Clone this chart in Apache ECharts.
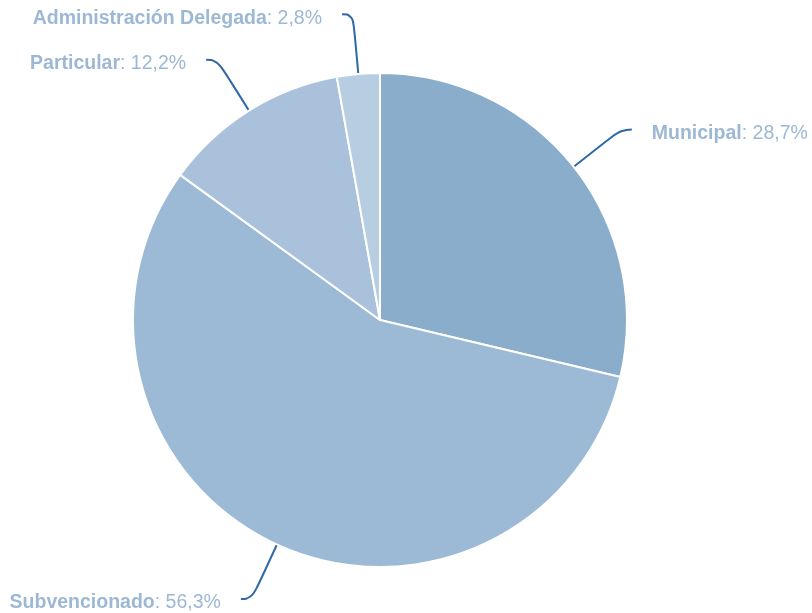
<!DOCTYPE html>
<html>
<head>
<meta charset="utf-8">
<script src="https://cdn.jsdelivr.net/npm/echarts@6/dist/echarts.min.js"></script>
<style>
  html, body { margin: 0; padding: 0; background: #fff; }
  #chart { width: 812px; height: 613px; }
</style>
</head>
<body>
<div id="chart"></div>
<script>
// datos (porcentaje de establecimientos por dependencia)
const categorias = ["Municipal", "Subvencionado", "Particular", "Administración Delegada"];
const valores = [28.7, 56.3, 12.2, 2.8];
const colores = ["#8aadcc", "#9cbad5", "#a9c1da", "#b6cde2"];

const chart = echarts.init(document.getElementById("chart"));

chart.setOption({
  animation: false,
  color: colores,
  series: [
    {
      type: "pie",
      center: [380, 320],
      radius: 247,
      startAngle: 90,
      clockwise: true,
      avoidLabelOverlap: false,
      data: categorias.map((c, i) => ({ name: c, value: valores[i] })),
      itemStyle: {
        borderColor: "#ffffff",
        borderWidth: 2,
      },
      label: {
        show: true,
        position: "outside",
        distanceToLabelLine: 20,
        fontFamily: "Liberation Sans, Arial, sans-serif",
        fontSize: 19.5,
        color: "#9db8d4",
        formatter: function (p) {
          return "{b|" + p.name + "}: " + p.value.toFixed(1).replace(".", ",") + "%";
        },
        rich: {
          b: {
            fontWeight: "bold",
            fontSize: 19.5,
            color: "#9db8d4",
            fontFamily: "Liberation Sans, Arial, sans-serif",
          },
        },
      },
      // el texto queda un poco por debajo del final de la línea
      labelLayout: { dy: 4 },
      labelLine: {
        show: true,
        length: 60,
        length2: 11,
        smooth: 0.5,
        lineStyle: {
          color: "#2f68a6",
          width: 2,
        },
      },
      emphasis: { disabled: true },
    },
  ],
});
</script>
</body>
</html>
